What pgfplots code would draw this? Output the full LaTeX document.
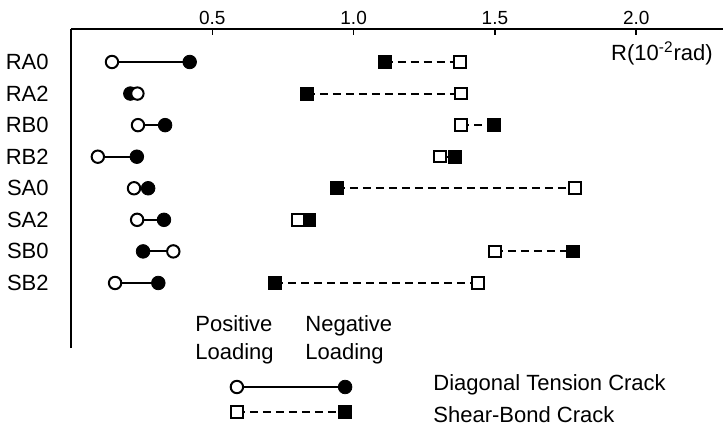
\documentclass[border=0pt]{standalone}
\usepackage{fontspec}
\setmainfont{Liberation Sans}
\usepackage{pgfplots}
\pgfplotsset{compat=1.18}
\begin{document}
\begin{tikzpicture}
\pgfplotsset{
  posc/.style={only marks, mark=*, mark size=3.1pt, mark options={draw=black, fill=white, line width=1pt}},
  negc/.style={only marks, mark=*, mark size=3.4pt, mark options={draw=black, fill=black, line width=0.4pt}},
  poss/.style={only marks, mark=square*, mark size=2.9pt, mark options={draw=black, fill=white, line width=1pt}},
  negs/.style={only marks, mark=square*, mark size=3.2pt, mark options={draw=black, fill=black, line width=0.4pt}},
  solidl/.style={black, line width=1pt, no marks},
  dashl/.style={black, line width=1pt, no marks, dash pattern=on 4pt off 2.5pt},
}
\begin{axis}[
  scale only axis, width=326pt, height=159.5pt,
  xmin=0, xmax=2.307, ymin=-9.06, ymax=1.045,
  axis x line=top, axis y line=left,
  axis line style={-, line width=1pt},
  xtick={0.5,1,1.5,2}, xticklabels={0.5,1.0,1.5,2.0},
  tick align=inside, major tick length=3pt,
  x tick style={line width=0.8pt, black},
  y tick style={draw=none},
  xticklabel style={font=\fontsize{9.5}{11}\selectfont, inner sep=0pt, yshift=2pt},
  ytick={-7,-6,-5,-4,-3,-2,-1,0},
  yticklabels={SB2,SB0,SA2,SA0,RB2,RB0,RA2,RA0},
  yticklabel style={font=\fontsize{11}{13}\selectfont, anchor=east, inner sep=0pt, xshift=-11pt},
  clip=false,
]
% connecting lines: diagonal tension crack (solid)
\addplot[solidl] coordinates {(0.145,0) (0.420,0)};
\addplot[solidl] coordinates {(0.235,-1) (0.210,-1)};
\addplot[solidl] coordinates {(0.237,-2) (0.333,-2)};
\addplot[solidl] coordinates {(0.095,-3) (0.233,-3)};
\addplot[solidl] coordinates {(0.223,-4) (0.273,-4)};
\addplot[solidl] coordinates {(0.234,-5) (0.329,-5)};
\addplot[solidl] coordinates {(0.362,-6) (0.255,-6)};
\addplot[solidl] coordinates {(0.156,-7) (0.309,-7)};
% connecting lines: shear-bond crack (dashed)
\addplot[dashl] coordinates {(1.110,0) (1.377,0)};
\addplot[dashl] coordinates {(0.835,-1) (1.380,-1)};
\addplot[dashl] coordinates {(1.380,-2) (1.497,-2)};
\addplot[dashl] coordinates {(1.306,-3) (1.359,-3)};
\addplot[dashl] coordinates {(0.941,-4) (1.783,-4)};
\addplot[dashl] coordinates {(0.803,-5) (0.843,-5)};
\addplot[dashl] coordinates {(1.500,-6) (1.776,-6)};
\addplot[dashl] coordinates {(0.722,-7) (1.440,-7)};
% negative loading (filled)
\addplot[negc] coordinates {(0.420,0) (0.210,-1) (0.333,-2) (0.233,-3) (0.273,-4) (0.329,-5) (0.255,-6) (0.309,-7)};
\addplot[negs] coordinates {(1.110,0) (0.835,-1) (1.497,-2) (1.359,-3) (0.941,-4) (0.843,-5) (1.776,-6) (0.722,-7)};
% positive loading (open)
\addplot[posc] coordinates {(0.145,0) (0.235,-1) (0.237,-2) (0.095,-3) (0.223,-4) (0.234,-5) (0.362,-6) (0.156,-7)};
\addplot[poss] coordinates {(1.377,0) (1.380,-1) (1.380,-2) (1.306,-3) (1.783,-4) (0.803,-5) (1.500,-6) (1.440,-7)};
% legend samples
\addplot[solidl] coordinates {(0.587,-10.295) (0.970,-10.295)};
\addplot[dashl] coordinates {(0.587,-11.086) (0.970,-11.086)};
\addplot[negc] coordinates {(0.970,-10.295)};
\addplot[negs] coordinates {(0.970,-11.086)};
\addplot[posc] coordinates {(0.587,-10.295)};
\addplot[poss] coordinates {(0.587,-11.086)};
% texts
\node[font=\fontsize{11}{13}\selectfont] at (axis cs:2.091,0.285) {R(10\textsuperscript{-2}rad)};
\node[font=\fontsize{11}{13}\selectfont, anchor=base west, inner sep=0pt] at (axis cs:0.4388,-8.552) {Positive};
\node[font=\fontsize{11}{13}\selectfont, anchor=base west, inner sep=0pt] at (axis cs:0.4388,-9.439) {Loading};
\node[font=\fontsize{11}{13}\selectfont, anchor=base west, inner sep=0pt] at (axis cs:0.828,-8.552) {Negative};
\node[font=\fontsize{11}{13}\selectfont, anchor=base west, inner sep=0pt] at (axis cs:0.828,-9.439) {Loading};
\node[font=\fontsize{11}{13}\selectfont, anchor=base west, inner sep=0pt] at (axis cs:1.281,-10.42) {Diagonal Tension Crack};
\node[font=\fontsize{11}{13}\selectfont, anchor=base west, inner sep=0pt] at (axis cs:1.281,-11.435) {Shear-Bond Crack};
\coordinate (TL) at (axis cs:-0.2512,1.964);
\coordinate (BR) at (axis cs:2.307,-11.625);
\end{axis}
\pgfresetboundingbox
\useasboundingbox (TL) rectangle (BR);
\end{tikzpicture}
\end{document}
